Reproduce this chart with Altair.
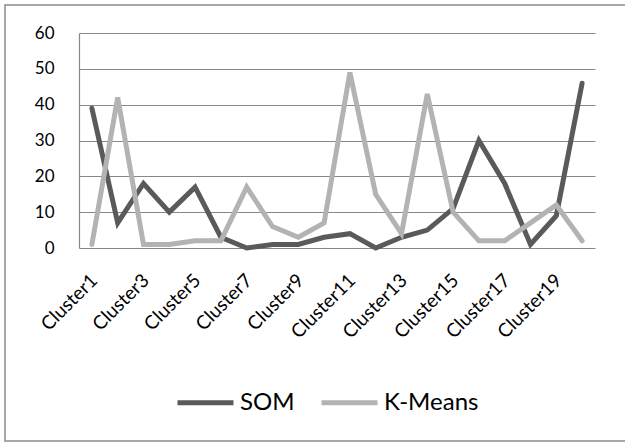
import altair as alt
import pandas as pd

# Cluster sizes per method
clusters = [f"Cluster{i}" for i in range(1, 21)]
som = [39, 7, 18, 10, 17, 3, 0, 1, 1, 3, 4, 0, 3, 5, 11, 30, 18, 1, 9, 46]
kmeans = [1, 42, 1, 1, 2, 2, 17, 6, 3, 7, 49, 15, 4, 43, 10, 2, 2, 7, 12, 2]
series = ["SOM", "K-Means"]
colors = ["#5a5a5a", "#b3b3b3"]
y_ticks = [0, 10, 20, 30, 40, 50, 60]
x_label_values = clusters[::2]

rows = []
for name, vals in zip(series, [som, kmeans]):
    for c, v in zip(clusters, vals):
        rows.append({"cluster": c, "count": v, "method": name})
df = pd.DataFrame(rows)

W, H = 516, 215

# outer chart border
frame = alt.Chart(pd.DataFrame({"k": [0]})).mark_rect(
    filled=False, stroke="#8c8c8c", strokeWidth=1.5
).encode(
    x=alt.value(-74), x2=alt.value(600),
    y=alt.value(-28), y2=alt.value(408),
)

lines = alt.Chart(df).mark_line(
    strokeWidth=5, strokeJoin="miter", strokeCap="round"
).encode(
    x=alt.X(
        "cluster:N",
        sort=clusters,
        scale=alt.Scale(domain=clusters),
        axis=alt.Axis(
            title=None, values=x_label_values, labelAngle=315,
            labelAlign="right", labelBaseline="middle",
            labelPadding=29, labelOffset=2, ticks=False, domain=False,
            grid=False, labelFontSize=19, labelColor="black",
        ),
    ),
    y=alt.Y(
        "count:Q",
        scale=alt.Scale(domain=[0, 60], nice=False),
        axis=alt.Axis(
            title=None, values=y_ticks, grid=True, gridColor="#888888",
            gridWidth=1.2, domainColor="#888888", domainWidth=1.2,
            ticks=False, labelPadding=25, labelFontSize=17,
            labelColor="black",
        ),
    ),
    color=alt.Color(
        "method:N",
        scale=alt.Scale(domain=series, range=colors),
        legend=alt.Legend(
            title=None, orient="none", legendX=96, legendY=339,
            direction="horizontal", columns=2, symbolType="stroke",
            symbolSize=3136, symbolStrokeWidth=5, labelFontSize=24,
            labelColor="black", labelOffset=4, columnPadding=16,
        ),
    ),
    detail="method:N",
)

chart = alt.layer(frame, lines).properties(
    width=W, height=H,
    autosize=alt.AutoSizeParams(type="none"),
    padding={"left": 79, "top": 33, "right": 30, "bottom": 194},
).configure(font="Lato").configure_view(stroke=None)

chart.save("out.html", embed_options={"renderer": "svg", "actions": False})
